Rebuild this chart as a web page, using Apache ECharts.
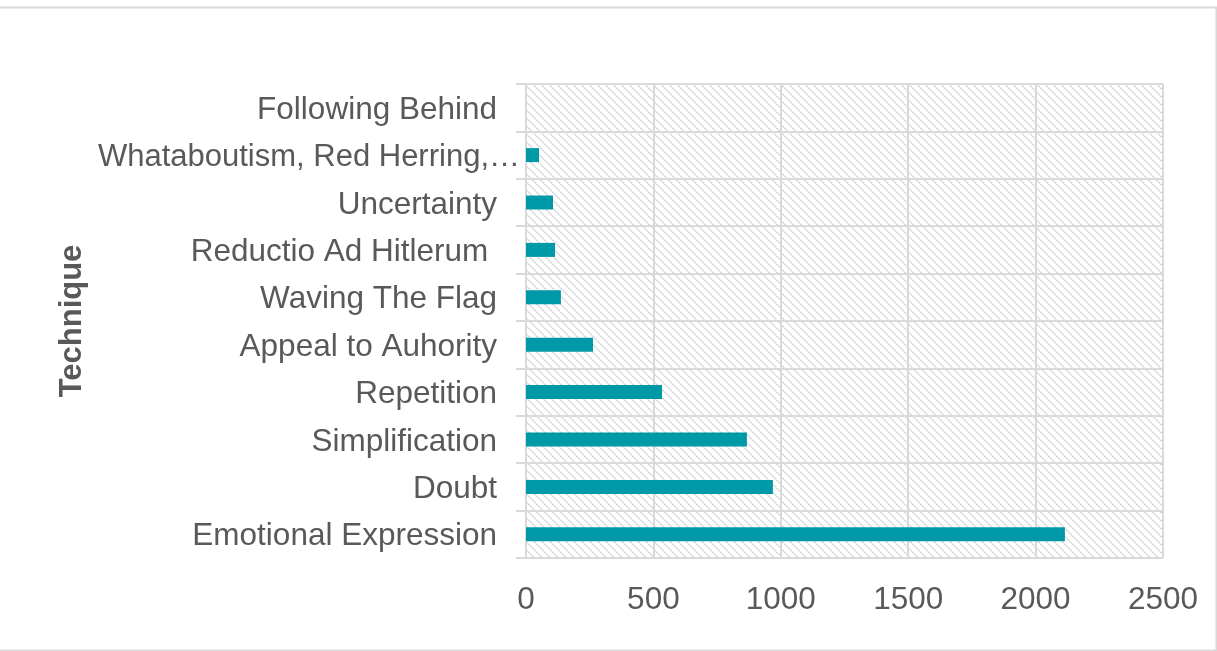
<!DOCTYPE html>
<html>
<head>
<meta charset="utf-8">
<script src="https://cdn.jsdelivr.net/npm/echarts@6/dist/echarts.min.js"></script>
<style>html,body{margin:0;padding:0;background:#fff;}#c{width:1217px;height:651px;}</style>
</head>
<body>
<div id="c"></div>
<script>
var categories = ["Emotional Expression", "Doubt", "Simplification", "Repetition", "Appeal to Auhority", "Waving The Flag", "Reductio Ad Hitlerum ", "Uncertainty", "Whataboutism, Red Herring,…", "Following Behind"];
var values = [2115, 969, 867, 534, 263, 137, 114, 106, 51, 0];
var xTicks = [0, 500, 1000, 1500, 2000, 2500];
var axisTitle = "Technique";

// hatch pattern tile (wide downward diagonal)
var tile = document.createElement('canvas');
tile.width = 8; tile.height = 8;
var g = tile.getContext('2d');
g.fillStyle = '#ffffff'; g.fillRect(0, 0, 8, 8);
for (var i = 0; i < 8; i++) {
  g.fillStyle = (i % 2 === 0) ? '#d6d6d6' : '#e6e6e6';
  g.fillRect(i, i, 1, 1);
  g.fillRect((i + 1) % 8, i, 1, 1);
}

var chart = echarts.init(document.getElementById('c'));
var font = '"Liberation Sans", Arial, sans-serif';
chart.setOption({
  animation: false,
  backgroundColor: '#ffffff',
  graphic: [{
    type: 'rect', left: -5, top: 5, silent: true,
    shape: { width: 1219, height: 643 },
    style: { fill: 'none', stroke: '#d9d9d9', lineWidth: 2 }
  }],
  grid: {
    left: 526, right: 54, top: 84, bottom: 93,
    show: true, borderWidth: 0,
    backgroundColor: { image: tile, repeat: 'repeat' }
  },
  xAxis: {
    type: 'value', min: xTicks[0], max: xTicks[xTicks.length - 1], interval: 500,
    axisLine: { show: false },
    axisTick: { show: false },
    splitLine: { show: true, lineStyle: { color: '#d9d9d9', width: 2 } },
    axisLabel: { color: '#595959', fontFamily: font, fontSize: 31.5, margin: 26,
      formatter: function (v) { return String(v); } }
  },
  yAxis: {
    type: 'category', data: categories,
    name: axisTitle, nameLocation: 'middle', nameGap: 438, nameRotate: 90,
    nameMoveOverlap: false,
    nameTextStyle: { color: '#595959', fontFamily: font, fontSize: 31, fontWeight: 'bold' },
    axisLine: { show: true, lineStyle: { color: '#d9d9d9', width: 2 } },
    axisTick: { show: true, length: 10, lineStyle: { color: '#d9d9d9', width: 2 } },
    splitLine: { show: true, lineStyle: { color: '#d9d9d9', width: 2 } },
    axisLabel: {
      interval: 0, margin: 6,
      formatter: function (v) {
        return v.indexOf('Whataboutism') === 0 ? '{w|' + v + '}' : '{n|' + v + '}';
      },
      rich: {
        n: { color: '#595959', fontFamily: font, fontSize: 31.5, padding: [5, 23, 0, 0] },
        w: { color: '#595959', fontFamily: font, fontSize: 31, padding: [5, 0, 0, 0] }
      }
    }
  },
  series: [{
    type: 'bar', data: values, barWidth: 14,
    itemStyle: { color: '#0099a8' }
  }]
});
</script>
</body>
</html>
